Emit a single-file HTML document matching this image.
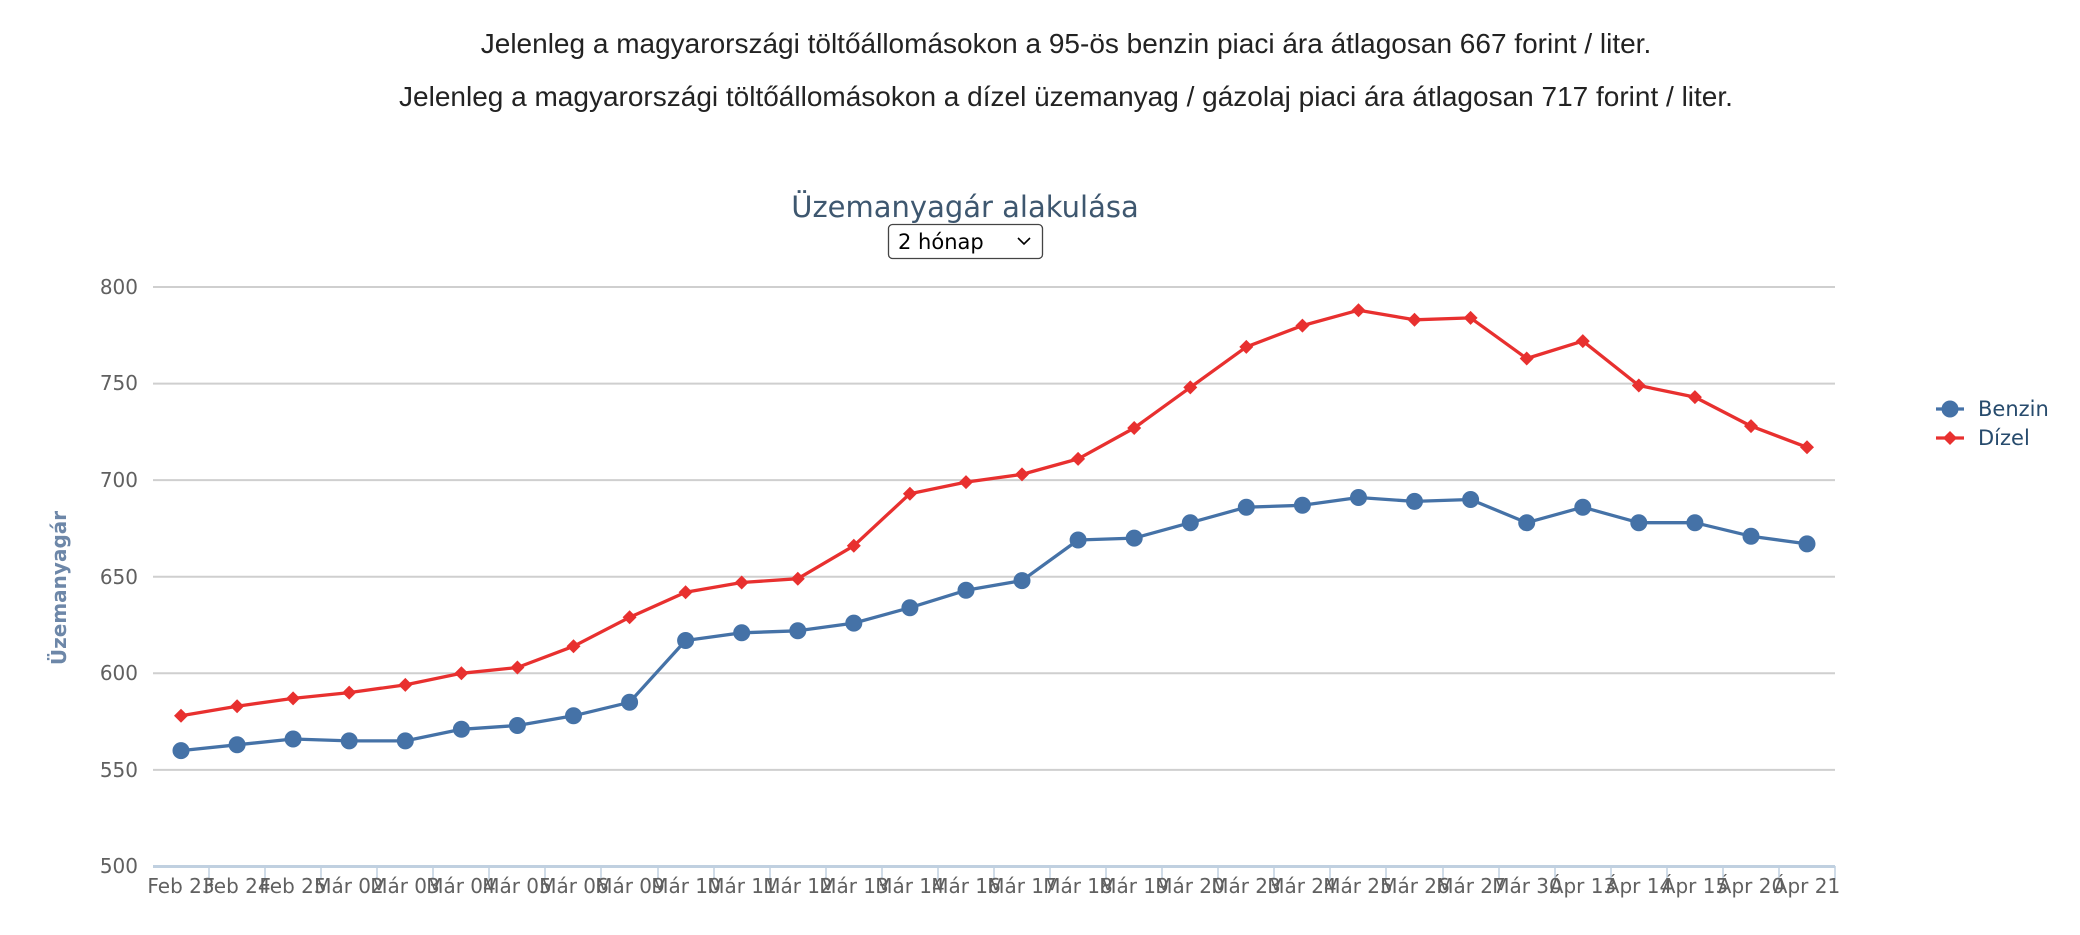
<!DOCTYPE html>
<html><head><meta charset="utf-8"><style>
html,body{margin:0;padding:0;background:#fff;width:2080px;height:935px;overflow:hidden}
svg{display:block}
</style></head><body>
<svg width="2080" height="935" viewBox="0 0 2080 935" xmlns="http://www.w3.org/2000/svg" font-family="Liberation Sans, DejaVu Sans, sans-serif">
<defs>
<circle id="c" r="8" fill="#4572a7" stroke="#4572a7"/>
<path id="d" d="M0,-7 L7,0 L0,7 L-7,0 Z" fill="#e8302f"/>
</defs>
<text x="1066" y="53" text-anchor="middle" font-size="28" fill="#222">Jelenleg a magyarországi töltőállomásokon a 95-ös benzin piaci ára átlagosan 667 forint / liter.</text>
<text x="1066" y="106" text-anchor="middle" font-size="28" fill="#222">Jelenleg a magyarországi töltőállomásokon a dízel üzemanyag / gázolaj piaci ára átlagosan 717 forint / liter.</text>
<text x="965" y="217" text-anchor="middle" font-size="29" fill="#3e576f" font-family="DejaVu Sans, sans-serif">Üzemanyagár alakulása</text>
<rect x="888.5" y="224.5" width="154" height="34" rx="4" fill="#fff" stroke="#444" stroke-width="1.3"/>
<text x="898" y="249" font-size="21" fill="#000" font-family="DejaVu Sans, sans-serif">2 hónap</text>
<path d="M1018,238 l6,6 l6,-6" fill="none" stroke="#000" stroke-width="1.6"/>
<g stroke="#cfcfcf" stroke-width="2">
<line x1="153" x2="1835" y1="287" y2="287"/>
<line x1="153" x2="1835" y1="383.6" y2="383.6"/>
<line x1="153" x2="1835" y1="480.1" y2="480.1"/>
<line x1="153" x2="1835" y1="576.7" y2="576.7"/>
<line x1="153" x2="1835" y1="673.3" y2="673.3"/>
<line x1="153" x2="1835" y1="769.9" y2="769.9"/>
</g>
<line x1="153" x2="1835" y1="866.5" y2="866.5" stroke="#c0d0e0" stroke-width="3"/>
<g font-size="20" fill="#606060" text-anchor="end" font-family="DejaVu Sans, sans-serif">
<text x="138" y="294">800</text><text x="138" y="390">750</text><text x="138" y="487">700</text>
<text x="138" y="584">650</text><text x="138" y="680">600</text><text x="138" y="777">550</text><text x="138" y="873">500</text>
</g>
<text transform="translate(66,588) rotate(-90)" text-anchor="middle" font-size="20" font-weight="bold" fill="#6d87a8" font-family="DejaVu Sans, sans-serif">Üzemanyagár</text>
<g stroke="#c0d0e0" stroke-width="1.5">
<line x1="209" x2="209" y1="866" y2="880"/><line x1="265" x2="265" y1="866" y2="880"/><line x1="321" x2="321" y1="866" y2="880"/><line x1="377" x2="377" y1="866" y2="880"/><line x1="433" x2="433" y1="866" y2="880"/><line x1="489" x2="489" y1="866" y2="880"/><line x1="545" x2="545" y1="866" y2="880"/><line x1="601" x2="601" y1="866" y2="880"/><line x1="658" x2="658" y1="866" y2="880"/><line x1="714" x2="714" y1="866" y2="880"/><line x1="770" x2="770" y1="866" y2="880"/><line x1="826" x2="826" y1="866" y2="880"/><line x1="882" x2="882" y1="866" y2="880"/><line x1="938" x2="938" y1="866" y2="880"/><line x1="994" x2="994" y1="866" y2="880"/><line x1="1050" x2="1050" y1="866" y2="880"/><line x1="1106" x2="1106" y1="866" y2="880"/><line x1="1162" x2="1162" y1="866" y2="880"/><line x1="1218" x2="1218" y1="866" y2="880"/><line x1="1274" x2="1274" y1="866" y2="880"/><line x1="1330" x2="1330" y1="866" y2="880"/><line x1="1386" x2="1386" y1="866" y2="880"/><line x1="1443" x2="1443" y1="866" y2="880"/><line x1="1499" x2="1499" y1="866" y2="880"/><line x1="1555" x2="1555" y1="866" y2="880"/><line x1="1611" x2="1611" y1="866" y2="880"/><line x1="1667" x2="1667" y1="866" y2="880"/><line x1="1723" x2="1723" y1="866" y2="880"/><line x1="1779" x2="1779" y1="866" y2="880"/><line x1="1835" x2="1835" y1="866" y2="880"/>
</g>
<g font-size="20" fill="#606060" text-anchor="middle" font-family="DejaVu Sans, sans-serif">
<text x="181" y="893">Feb 23</text><text x="237" y="893">Feb 24</text><text x="293" y="893">Feb 25</text><text x="349" y="893">Már 02</text><text x="405" y="893">Már 03</text><text x="461" y="893">Már 04</text><text x="517" y="893">Már 05</text><text x="574" y="893">Már 06</text><text x="630" y="893">Már 09</text><text x="686" y="893">Már 10</text><text x="742" y="893">Már 11</text><text x="798" y="893">Már 12</text><text x="854" y="893">Már 13</text><text x="910" y="893">Már 14</text><text x="966" y="893">Már 16</text><text x="1022" y="893">Már 17</text><text x="1078" y="893">Már 18</text><text x="1134" y="893">Már 19</text><text x="1190" y="893">Már 20</text><text x="1246" y="893">Már 23</text><text x="1302" y="893">Már 24</text><text x="1358" y="893">Már 25</text><text x="1415" y="893">Már 26</text><text x="1471" y="893">Már 27</text><text x="1527" y="893">Már 30</text><text x="1583" y="893">Ápr 13</text><text x="1639" y="893">Ápr 14</text><text x="1695" y="893">Ápr 15</text><text x="1751" y="893">Ápr 20</text><text x="1807" y="893">Ápr 21</text>
</g>
<polyline fill="none" stroke="#4572a7" stroke-width="3.3" stroke-linejoin="round" points="181,750.6 237.1,744.8 293.1,739 349.2,740.9 405.3,740.9 461.4,729.3 517.4,725.5 573.5,715.8 629.6,702.3 685.6,640.5 741.7,632.8 797.8,630.8 853.8,623.1 909.9,607.7 966,590.3 1022,580.6 1078.1,540 1134.2,538.1 1190.3,522.7 1246.3,507.2 1302.4,505.3 1358.5,497.5 1414.5,501.4 1470.6,499.5 1526.7,522.7 1582.8,507.2 1638.8,522.7 1694.9,522.7 1751,536.2 1807,543.9"/>
<polyline fill="none" stroke="#e8302f" stroke-width="3.3" stroke-linejoin="round" points="181,715.8 237.1,706.2 293.1,698.4 349.2,692.6 405.3,684.9 461.4,673.3 517.4,667.5 573.5,646.3 629.6,617.3 685.6,592.2 741.7,582.5 797.8,578.7 853.8,545.8 909.9,493.7 966,482.1 1022,474.4 1078.1,458.9 1134.2,428 1190.3,387.4 1246.3,346.9 1302.4,325.6 1358.5,310.2 1414.5,319.8 1470.6,317.9 1526.7,358.5 1582.8,341.1 1638.8,385.5 1694.9,397.1 1751,426.1 1807,447.3"/>
<g>
<use href="#c" x="181" y="750.6"/><use href="#c" x="237.1" y="744.8"/><use href="#c" x="293.1" y="739"/><use href="#c" x="349.2" y="740.9"/><use href="#c" x="405.3" y="740.9"/><use href="#c" x="461.4" y="729.3"/><use href="#c" x="517.4" y="725.5"/><use href="#c" x="573.5" y="715.8"/><use href="#c" x="629.6" y="702.3"/><use href="#c" x="685.6" y="640.5"/><use href="#c" x="741.7" y="632.8"/><use href="#c" x="797.8" y="630.8"/><use href="#c" x="853.8" y="623.1"/><use href="#c" x="909.9" y="607.7"/><use href="#c" x="966" y="590.3"/><use href="#c" x="1022" y="580.6"/><use href="#c" x="1078.1" y="540"/><use href="#c" x="1134.2" y="538.1"/><use href="#c" x="1190.3" y="522.7"/><use href="#c" x="1246.3" y="507.2"/><use href="#c" x="1302.4" y="505.3"/><use href="#c" x="1358.5" y="497.5"/><use href="#c" x="1414.5" y="501.4"/><use href="#c" x="1470.6" y="499.5"/><use href="#c" x="1526.7" y="522.7"/><use href="#c" x="1582.8" y="507.2"/><use href="#c" x="1638.8" y="522.7"/><use href="#c" x="1694.9" y="522.7"/><use href="#c" x="1751" y="536.2"/><use href="#c" x="1807" y="543.9"/>
</g>
<g>
<use href="#d" x="181" y="715.8"/><use href="#d" x="237.1" y="706.2"/><use href="#d" x="293.1" y="698.4"/><use href="#d" x="349.2" y="692.6"/><use href="#d" x="405.3" y="684.9"/><use href="#d" x="461.4" y="673.3"/><use href="#d" x="517.4" y="667.5"/><use href="#d" x="573.5" y="646.3"/><use href="#d" x="629.6" y="617.3"/><use href="#d" x="685.6" y="592.2"/><use href="#d" x="741.7" y="582.5"/><use href="#d" x="797.8" y="578.7"/><use href="#d" x="853.8" y="545.8"/><use href="#d" x="909.9" y="493.7"/><use href="#d" x="966" y="482.1"/><use href="#d" x="1022" y="474.4"/><use href="#d" x="1078.1" y="458.9"/><use href="#d" x="1134.2" y="428"/><use href="#d" x="1190.3" y="387.4"/><use href="#d" x="1246.3" y="346.9"/><use href="#d" x="1302.4" y="325.6"/><use href="#d" x="1358.5" y="310.2"/><use href="#d" x="1414.5" y="319.8"/><use href="#d" x="1470.6" y="317.9"/><use href="#d" x="1526.7" y="358.5"/><use href="#d" x="1582.8" y="341.1"/><use href="#d" x="1638.8" y="385.5"/><use href="#d" x="1694.9" y="397.1"/><use href="#d" x="1751" y="426.1"/><use href="#d" x="1807" y="447.3"/>
</g>
<line x1="1936" x2="1964" y1="409" y2="409" stroke="#4572a7" stroke-width="3.3"/>
<use href="#c" x="1950" y="409"/>
<text x="1978" y="416" font-size="21" fill="#274b6d" font-family="DejaVu Sans, sans-serif">Benzin</text>
<line x1="1936" x2="1964" y1="438" y2="438" stroke="#e8302f" stroke-width="3.3"/>
<use href="#d" x="1950" y="438"/>
<text x="1978" y="445" font-size="21" fill="#274b6d" font-family="DejaVu Sans, sans-serif">Dízel</text>
</svg>
</body></html>
